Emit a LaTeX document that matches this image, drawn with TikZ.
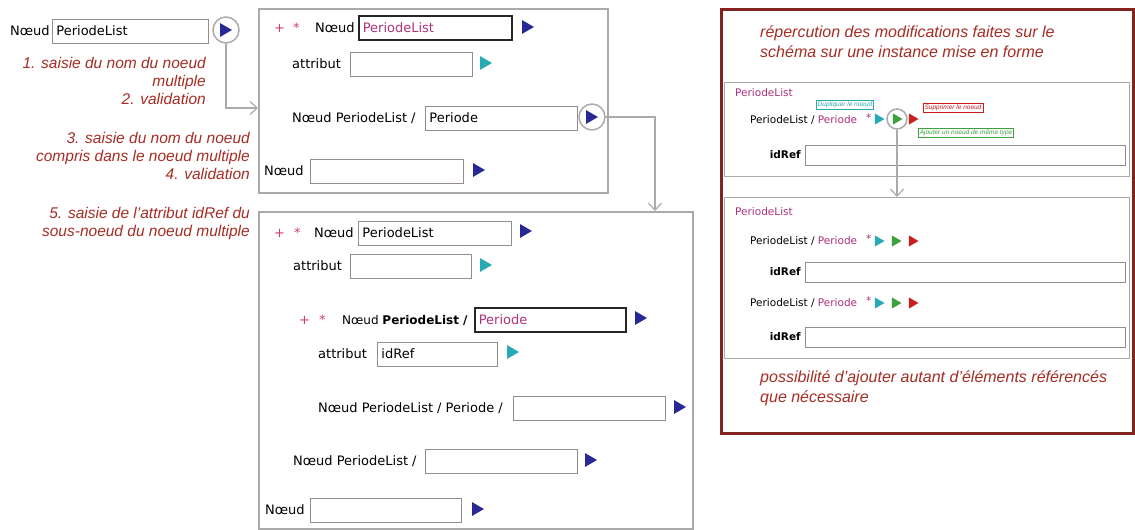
\documentclass[tikz,border=0pt]{standalone}
\usepackage{fontspec}
\setmainfont{Liberation Sans}
\newfontfamily\ui{DejaVu Sans}
\usetikzlibrary{shapes.geometric,arrows.meta}
\definecolor{rougeNote}{RGB}{165,45,35}
\definecolor{rougeCadre}{RGB}{130,35,30}
\definecolor{grisCadre}{RGB}{170,170,170}
\definecolor{grisChamp}{RGB}{150,140,140}
\definecolor{mag}{RGB}{175,50,125}
\definecolor{rose}{RGB}{210,60,110}
\definecolor{bleu}{RGB}{40,40,150}
\definecolor{turquoise}{RGB}{40,170,180}
\definecolor{vert}{RGB}{60,160,60}
\definecolor{rouge}{RGB}{200,30,30}
\tikzset{
	cadre/.style={draw=grisCadre, line width=2pt, anchor=north west, inner sep=0pt},
	champ/.style={draw=grisChamp, line width=0.9pt, anchor=west, minimum height=24pt,
			text width=#1, inner xsep=4pt, inner ysep=0pt, align=left,
			font=\ui\fontsize{13}{15}\selectfont},
	actif/.style={draw=black!85, line width=1.6pt},
	etiq/.style={anchor=west, inner sep=0pt, font=\ui\fontsize{13}{15}\selectfont},
	petit/.style={font=\ui\fontsize{10.5}{12}\selectfont},
	bouton/.style={regular polygon, regular polygon sides=3, shape border rotate=-90,
			fill=#1, inner sep=0pt, minimum size=16pt},
	rond/.style={circle, draw=grisCadre, line width=1.5pt, minimum size=26pt, inner sep=0pt},
	fleche/.style={draw=grisCadre, line width=1.2pt, -{Straight Barb[length=7pt,width=13pt]}},
	note/.style={font=\itshape\fontsize{15.5}{18}\selectfont, text=rougeNote, inner sep=0pt},
	badge/.style={draw=#1, text=#1, fill=white, line width=0.6pt, inner sep=1.5pt,
			font=\itshape\fontsize{6.5}{7}\selectfont}
}
\begin{document}
\begin{tikzpicture}[x=1pt,y=-1pt]
	\fill[white] (0,0) rectangle (1135,530);
	\useasboundingbox (0,0) rectangle (1135,530);

	% saisie initiale
	\node[etiq] (l0) at (10,31) {Nœud};
	\node[champ=148pt] (f0) at (52,31) {PeriodeList};
	\node[rond] (c0) at (226,30) {};
	\node[bouton=bleu] (t0) at (224,30) {};

	\node[note, anchor=north east, align=right] (a1) at (206,57) {1. saisie du nom du noeud\\multiple\\2. validation};
	\node[note, anchor=north east, align=right] (a2) at (250,132) {3. saisie du nom du noeud\\compris dans le noeud multiple\\4. validation};
	\node[note, anchor=north east, align=right] (a3) at (250,207) {5. saisie de l'attribut idRef du\\sous-noeud du noeud multiple};

	% premier formulaire
	\node[cadre, minimum width=349pt, minimum height=184pt] (b1) at (258,8) {};
	\node[etiq, text=rose] (p1) at (274,28) {+};
	\node[etiq, text=rose] (s1) at (293,28) {*};
	\node[etiq] (l1) at (315,28) {Nœud};
	\node[champ=145pt, actif, text=mag] (f1) at (358,28) {PeriodeList};
	\node[bouton=bleu] (t1) at (526,27) {};
	\node[etiq] (l2) at (292,64) {attribut};
	\node[champ=114pt] (f2) at (350,64) {};
	\node[bouton=turquoise] (t2) at (484,63) {};
	\node[etiq] (l3) at (292,118) {Nœud PeriodeList /};
	\node[champ=144pt] (f3) at (425,118) {Periode};
	\node[rond] (c1) at (592,117) {};
	\node[bouton=bleu] (t3) at (590,117) {};
	\node[etiq] (l4) at (264,171) {Nœud};
	\node[champ=145pt] (f4) at (310,171) {};
	\node[bouton=bleu] (t4) at (477,170) {};

	% second formulaire
	\node[cadre, minimum width=434pt, minimum height=317pt] (b2) at (258,211) {};
	\node[etiq, text=rose] (p2) at (274,233) {+};
	\node[etiq, text=rose] (s2) at (294,233) {*};
	\node[etiq] (l5) at (314,233) {Nœud};
	\node[champ=145pt] (f5) at (358,233) {PeriodeList};
	\node[bouton=bleu] (t5) at (524,231) {};
	\node[etiq] (l6) at (293,266) {attribut};
	\node[champ=113pt] (f6) at (350,266) {};
	\node[bouton=turquoise] (t6) at (484,265) {};
	\node[etiq, text=rose] (p3) at (299,320) {+};
	\node[etiq, text=rose] (s3) at (319,320) {*};
	\node[etiq, font=\ui\fontsize{12}{14}\selectfont] (l7) at (342,320) {Nœud \textbf{PeriodeList /}};
	\node[champ=143pt, actif, text=mag] (f7) at (474,320) {Periode};
	\node[bouton=bleu] (t7) at (639,318) {};
	\node[etiq] (l8) at (318,354) {attribut};
	\node[champ=112pt] (f8) at (377,354) {idRef};
	\node[bouton=turquoise] (t8) at (511,352) {};
	\node[etiq] (l9) at (318,408) {Nœud PeriodeList / Periode /};
	\node[champ=144pt] (f9) at (513,408) {};
	\node[bouton=bleu] (t9) at (678,407) {};
	\node[etiq] (l10) at (293,461) {Nœud PeriodeList /};
	\node[champ=144pt] (f10) at (425,461) {};
	\node[bouton=bleu] (t10) at (589,460) {};
	\node[etiq] (l11) at (265,510) {Nœud};
	\node[champ=143pt] (f11) at (310,510) {};
	\node[bouton=bleu] (t11) at (476,509) {};

	% liens
	\coordinate (k0) at (258,108);
	\coordinate (k1) at (655,117);
	\draw[fleche] (c0.south) |- (k0);
	\draw[fleche] (c1.east) -- (k1) -- (k1 |- b2.north);

	% instance mise en forme
	\node[cadre, draw=rougeCadre, line width=2.5pt, minimum width=412pt, minimum height=424pt] (rp) at (720,8) {};
	\node[note, anchor=north west, align=left, font=\itshape\fontsize{16}{20}\selectfont] (a4) at (760,26) {répercution des modifications faites sur le\\schéma sur une instance mise en forme};

	\node[cadre, line width=1.3pt, minimum width=405pt, minimum height=94pt] (ib1) at (724,82) {};
	\node[etiq, petit, text=mag] (h1) at (735,93) {PeriodeList};
	\node[etiq, petit] (r1) at (750,120) {PeriodeList / \textcolor{mag}{Periode}};
	\node[etiq, petit, text=mag] (e1) at (866,118) {*};
	\node[bouton=turquoise, minimum size=13pt] (d1) at (878,119) {};
	\node[rond, minimum size=20pt] (c2) at (897,119) {};
	\node[bouton=vert, minimum size=13pt] (g1) at (896,119) {};
	\node[bouton=rouge, minimum size=13pt] (x1) at (912,119) {};
	\node[badge=turquoise] (bd) at (845,105) {Dupliquer le noeud};
	\node[badge=rouge] (bs) at (953,108) {Supprimer le noeud};
	\node[badge=vert] (ba) at (966,133) {Ajouter un noeud de même type};
	\node[etiq, petit, anchor=east] (i1) at (801,155) {\textbf{idRef}};
	\node[champ=312pt, minimum height=20pt] (f12) at (805,155) {};

	\node[cadre, line width=1.3pt, minimum width=405pt, minimum height=161pt] (ib2) at (724,197) {};
	\draw[fleche] (c2.south) -- (c2.south |- ib2.north);
	\node[etiq, petit, text=mag] (h2) at (735,212) {PeriodeList};
	\foreach \n/\y/\z in {2/241/272, 3/303/337} {
		\node[etiq, petit] (r\n) at (750,\y) {PeriodeList / \textcolor{mag}{Periode}};
		\node[etiq, petit, text=mag] (e\n) at (866,\y-2) {*};
		\node[bouton=turquoise, minimum size=13pt] (d\n) at (878,\y) {};
		\node[bouton=vert, minimum size=13pt] (g\n) at (895,\y) {};
		\node[bouton=rouge, minimum size=13pt] (x\n) at (912,\y) {};
		\node[etiq, petit, anchor=east] (i\n) at (801,\z) {\textbf{idRef}};
		\node[champ=312pt, minimum height=20pt] (f1\n) at (805,\z) {};
	}
	\node[note, anchor=north west, align=left, font=\itshape\fontsize{16}{20}\selectfont] (a5) at (760,371) {possibilité d'ajouter autant d'éléments référencés\\que nécessaire};
\end{tikzpicture}
\end{document}
